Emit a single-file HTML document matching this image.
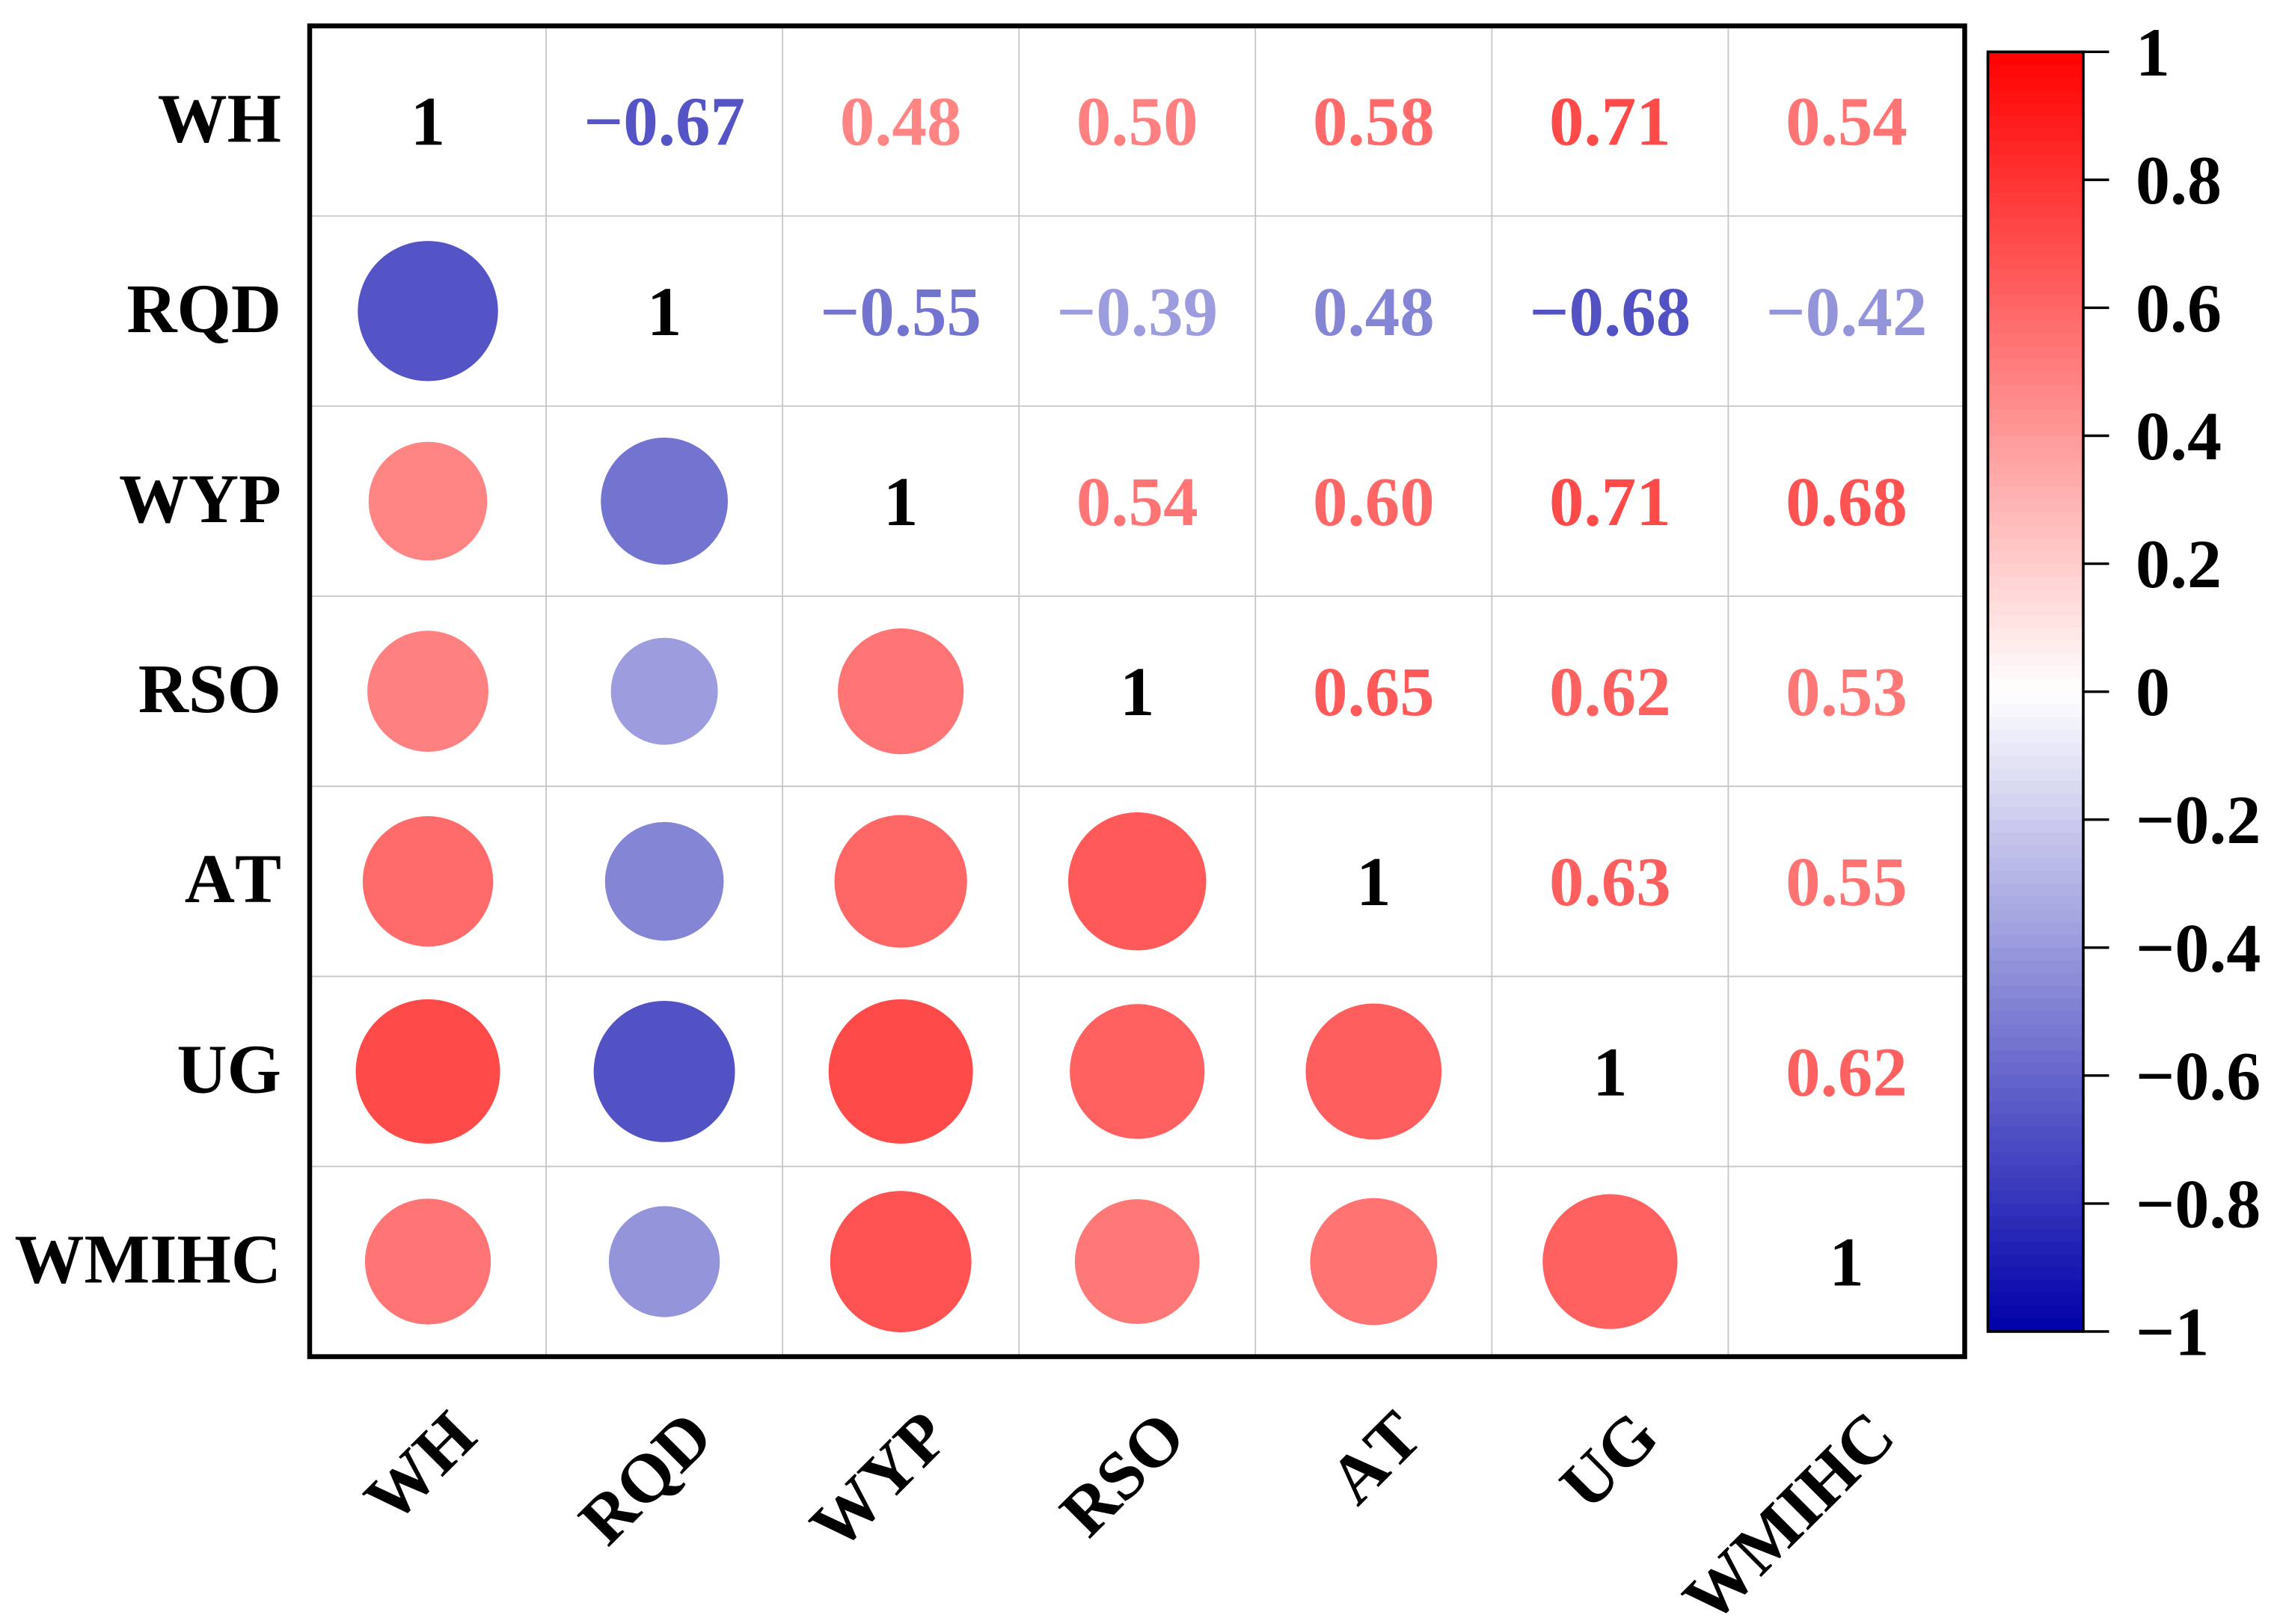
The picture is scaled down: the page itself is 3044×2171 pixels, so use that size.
<!DOCTYPE html>
<html lang="en">
<head>
<meta charset="utf-8">
<title>Correlation matrix</title>
<style>
html,body{margin:0;padding:0;background:#fff;}
svg{display:block;}
text{font-family:"Liberation Serif",serif;font-weight:bold;font-kerning:none;}
</style>
</head>
<body>
<svg id="chart" xmlns="http://www.w3.org/2000/svg" width="3044" height="2171" viewBox="0 0 3044 2171">
  <rect x="0" y="0" width="3044" height="2171" fill="#ffffff"/>
  <g id="grid"></g>
  <g id="circles"></g>
  <g id="cellText"></g>
  <rect x="414" y="34.6" width="2212.5" height="1779" fill="none" stroke="#000000" stroke-width="6.5"/>
  <g id="rowLabels"></g>
  <g id="colLabels"></g>
  <g id="colorbar"></g>
</svg>
<script>
const categories = ["WH", "RQD", "WYP", "RSO", "AT", "UG", "WMIHC"];
const corrWH    = [1, -0.67, 0.48, 0.50, 0.58, 0.71, 0.54];
const corrRQD   = [-0.67, 1, -0.55, -0.39, -0.48, -0.68, -0.42];
const corrWYP   = [0.48, -0.55, 1, 0.54, 0.60, 0.71, 0.68];
const corrRSO   = [0.50, -0.39, 0.54, 1, 0.65, 0.62, 0.53];
const corrAT    = [0.58, -0.48, 0.60, 0.65, 1, 0.63, 0.55];
const corrUG    = [0.71, -0.68, 0.71, 0.62, 0.63, 1, 0.62];
const corrWMIHC = [0.54, -0.42, 0.68, 0.53, 0.55, 0.62, 1];
const printedRQD = ["", "1", "\u22120.55", "\u22120.39", "0.48", "\u22120.68", "\u22120.42"];
const colorbarTicks = [1, 0.8, 0.6, 0.4, 0.2, 0, -0.2, -0.4, -0.6, -0.8, -1];
const colorbarTickLabels = ["1", "0.8", "0.6", "0.4", "0.2", "0", "\u22120.2", "\u22120.4", "\u22120.6", "\u22120.8", "\u22121"];

const matrix = [corrWH, corrRQD, corrWYP, corrRSO, corrAT, corrUG, corrWMIHC];
const NS = "http://www.w3.org/2000/svg";
const plot = {x0: 414, y0: 34.6, cw: 2212.5 / 7, ch: 1779 / 7};
const bar = {x0: 2657.5, x1: 2785, y0: 69.3, y1: 1780};

function colX(i) { return plot.x0 + plot.cw * (i + 0.5); }
function rowY(i) { return plot.y0 + plot.ch * (i + 0.5); }
function radius(v) { return 114.5 * Math.sqrt(Math.abs(v)); }
function barY(v) { return bar.y0 + (1 - v) / 2 * (bar.y1 - bar.y0); }
function colorOf(v) {
  const a = Math.min(1, Math.abs(v));
  const k = Math.round(255 * (1 - a));
  if (v >= 0) return "rgb(255," + k + "," + k + ")";
  return "rgb(" + k + "," + k + "," + Math.round(170 + 85 * (1 - a)) + ")";
}
function printed(r, c) {
  if (r === 1 && printedRQD[c]) return printedRQD[c];
  const v = matrix[r][c];
  if (r === c) return "1";
  return (v < 0 ? "\u2212" : "") + Math.abs(v).toFixed(2);
}
function make(tag, parentId) {
  const el = document.createElementNS(NS, tag);
  document.getElementById(parentId).appendChild(el);
  return el;
}

/* grid */
for (let i = 1; i < categories.length; i++) {
  const v = make("line", "grid");
  
  
  v.setAttribute("x1", plot.x0 + plot.cw * i);
  v.setAttribute("x2", plot.x0 + plot.cw * i);
  v.setAttribute("y1", plot.y0);
  v.setAttribute("y2", plot.y0 + plot.ch * 7);
  v.setAttribute("stroke", "#c6c6c6");
  v.setAttribute("stroke-width", "1.8");
  const h = make("line", "grid");
  
  
  h.setAttribute("x1", plot.x0);
  h.setAttribute("x2", plot.x0 + plot.cw * 7);
  h.setAttribute("y1", plot.y0 + plot.ch * i);
  h.setAttribute("y2", plot.y0 + plot.ch * i);
  h.setAttribute("stroke", "#c6c6c6");
  h.setAttribute("stroke-width", "1.8");
}

/* cells */
matrix.forEach(function (row, r) {
  row.forEach(function (v, c) {
    if (c < r) {
      const dot = make("circle", "circles");
      
      
      dot.setAttribute("cx", colX(c));
      dot.setAttribute("cy", rowY(r));
      dot.setAttribute("r", radius(v));
      dot.setAttribute("fill", colorOf(v));
    } else {
      const t = make("text", "cellText");
      
      
      t.setAttribute("x", colX(c));
      t.setAttribute("y", rowY(r) + 32);
      t.setAttribute("text-anchor", "middle");
      t.setAttribute("font-size", "93");
      t.setAttribute("fill", r === c ? "#000000" : colorOf(v));
      t.textContent = printed(r, c);
    }
  });
});

/* axis labels */
categories.forEach(function (name, i) {
  const yl = make("text", "rowLabels");
  
  
  yl.setAttribute("x", 376);
  yl.setAttribute("y", rowY(i) + 28);
  yl.setAttribute("text-anchor", "end");
  yl.setAttribute("font-size", "93");
  yl.setAttribute("fill", "#000000");
  yl.textContent = name;
  const xl = make("text", "colLabels");
  const ax = colX(i) + 69;
  const ay = 1925;
  
  
  xl.setAttribute("x", ax);
  xl.setAttribute("y", ay);
  xl.setAttribute("text-anchor", "end");
  xl.setAttribute("font-size", "92");
  xl.setAttribute("fill", "#000000");
  xl.setAttribute("transform", "rotate(-45 " + ax + " " + ay + ")");
  xl.textContent = name;
});

/* colorbar */
const levels = 100;
for (let i = 0; i < levels; i++) {
  const v0 = 1 - 2 * i / levels;
  const v1 = 1 - 2 * (i + 1) / levels;
  const band = make("rect", "colorbar");
  
  
  band.setAttribute("x", bar.x0);
  band.setAttribute("y", barY(v0));
  band.setAttribute("width", bar.x1 - bar.x0);
  band.setAttribute("height", barY(v1) - barY(v0) + 0.6);
  band.setAttribute("fill", colorOf((v0 + v1) / 2));
}
const barFrame = make("rect", "colorbar");


barFrame.setAttribute("x", bar.x0);
barFrame.setAttribute("y", bar.y0);
barFrame.setAttribute("width", bar.x1 - bar.x0);
barFrame.setAttribute("height", bar.y1 - bar.y0);
barFrame.setAttribute("fill", "none");
barFrame.setAttribute("stroke", "#000000");
barFrame.setAttribute("stroke-width", "3.6");
colorbarTicks.forEach(function (v, i) {
  const tick = make("line", "colorbar");
  
  
  tick.setAttribute("x1", bar.x1);
  tick.setAttribute("x2", 2819.5);
  tick.setAttribute("y1", barY(v));
  tick.setAttribute("y2", barY(v));
  tick.setAttribute("stroke", "#000000");
  tick.setAttribute("stroke-width", "3.4");
  const lab = make("text", "colorbar");
  
  
  lab.setAttribute("x", 2855);
  lab.setAttribute("y", barY(v) + 31.5);
  lab.setAttribute("font-size", "92");
  lab.setAttribute("fill", "#000000");
  lab.textContent = colorbarTickLabels[i];
});
</script>
</body>
</html>
